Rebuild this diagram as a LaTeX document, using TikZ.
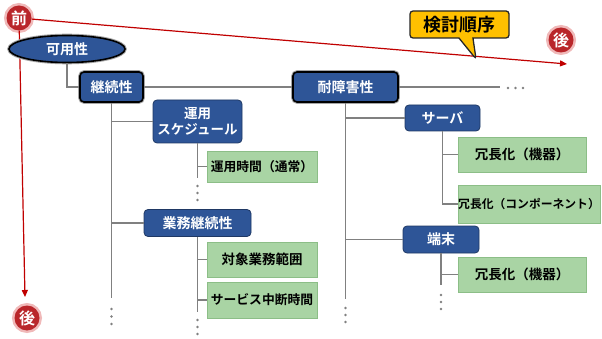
\documentclass[tikz,border=0pt]{standalone}
\usepackage{fontspec}
\setmainfont{Noto Sans CJK JP Bold}
\usetikzlibrary{shapes.geometric,shapes.callouts,arrows.meta}
\definecolor{boxblue}{RGB}{46,85,151}
\definecolor{boxedge}{RGB}{31,56,100}
\definecolor{grn}{RGB}{169,212,164}
\definecolor{grnedge}{RGB}{140,190,135}
\definecolor{redline}{RGB}{192,0,0}
\definecolor{circred}{RGB}{185,38,42}
\definecolor{glow}{RGB}{240,185,185}
\definecolor{conn}{RGB}{128,128,128}
\definecolor{callfill}{RGB}{255,192,0}
\begin{document}
\begin{tikzpicture}[x=1pt,y=-1pt,
 bluebox/.style={draw=boxedge,line width=0.8pt,fill=boxblue,rounded corners=4pt,text=white,font=\fontsize{14}{16}\selectfont,inner sep=0pt,align=center},
 topbox/.style={bluebox,draw=black,line width=1.6pt,preaction={draw=gray!70,line width=3.6pt}},
 greenbox/.style={draw=grnedge,line width=0.6pt,fill=grn,font=\fontsize{13.5}{15}\selectfont,inner sep=0pt},
 connline/.style={draw=conn,line width=1.4pt},
 dotmark/.style={circle,fill=conn,inner sep=0pt,minimum size=2.8pt},
 redarrow/.style={draw=redline,line width=1.2pt,-{Triangle[length=7pt,width=6pt]}},
 order/.style={circle,fill=circred,text=white,font=\fontsize{16}{16}\selectfont,minimum size=25pt,inner sep=0pt,preaction={draw=glow,line width=5pt}},
 calloutbox/.style={rectangle callout,fill=callfill,draw=black!85,line width=1.3pt,rounded corners=3pt,font=\fontsize{18}{18}\selectfont,inner sep=0pt,callout pointer width=14pt}
]
\useasboundingbox (0,0) rectangle (602,339);

% order markers and red arrows
\node[order] (mae) at (19,18) {前};
\node[order] (atoR) at (561,40) {後};
\node[order] (atoB) at (27,318) {後};
\coordinate (hEnd) at (567,64);
\coordinate (vEnd) at (25,297);
\draw[redarrow] (mae) -- (hEnd);
\draw[redarrow] (mae) -- (vEnd);

\node[calloutbox,minimum width=99pt,minimum height=27pt,callout absolute pointer={(476,59)}] (kento) at (459.5,24.5) {検討順序};

% nodes
\node[topbox,ellipse,minimum width=116pt,minimum height=27pt] (kayo) at (67,49) {可用性};
\node[topbox,minimum width=63pt,minimum height=30pt] (keizoku) at (111.5,87) {継続性};
\node[topbox,minimum width=105pt,minimum height=30pt] (tai) at (345.5,87) {耐障害性};
\node[bluebox,minimum width=89pt,minimum height=43pt,font=\fontsize{13.5}{16}\selectfont] (unyo) at (197.5,121.5) {運用\\スケジュール};
\node[greenbox,minimum width=110pt,minimum height=31pt,font=\fontsize{12.8}{15}\selectfont] (jikan) at (262,166.5) {運用時間（通常）};
\node[bluebox,minimum width=107pt,minimum height=27pt] (gyomu) at (197.5,223) {業務継続性};
\node[greenbox,minimum width=110pt,minimum height=35pt] (taisho) at (262,259.5) {対象業務範囲};
\node[greenbox,minimum width=110pt,minimum height=36pt,font=\fontsize{12.8}{15}\selectfont] (service) at (262,300) {サービス中断時間};
\node[bluebox,minimum width=75pt,minimum height=26pt] (server) at (442.5,118) {サーバ};
\node[greenbox,minimum width=128pt,minimum height=35pt] (kiki1) at (522,154.5) {冗長化（機器）};
\node[greenbox,minimum width=142pt,minimum height=38pt,font=\fontsize{11.8}{15}\selectfont] (komp) at (529,204) {冗長化（コンポーネント）};
\node[bluebox,minimum width=76pt,minimum height=27pt] (tanm) at (441,239.5) {端末};
\node[greenbox,minimum width=128pt,minimum height=35pt] (kiki2) at (522,274.5) {冗長化（機器）};

% connectors
\draw[connline] (kayo.south) |- (keizoku.west);
\draw[connline] (keizoku.east) -- (tai.west);
\coordinate (taiR) at (500,87);
\draw[connline] (tai.east) -- (taiR);
\node[dotmark] (d1) at (508,88) {};
\node[dotmark] (d2) at (515.5,88) {};
\node[dotmark] (d3) at (523,88) {};

\coordinate (k1) at (111.5,298);
\draw[connline] (keizoku.south) -- (k1);
\draw[connline] (k1 |- unyo.west) -- (unyo.west);
\draw[connline] (k1 |- gyomu.west) -- (gyomu.west);
\node[dotmark] (d4) at (111.5,309) {};
\node[dotmark] (d5) at (111.5,316.5) {};
\node[dotmark] (d6) at (111.5,324) {};

\coordinate (u1) at (197.5,178);
\draw[connline] (unyo.south) -- (u1);
\draw[connline] (u1 |- jikan.west) -- (jikan.west);
\node[dotmark] (d7) at (197.5,186) {};
\node[dotmark] (d8) at (197.5,193) {};
\node[dotmark] (d9) at (197.5,200) {};

\coordinate (g1) at (197.5,312);
\draw[connline] (gyomu.south) -- (g1);
\draw[connline] (g1 |- taisho.west) -- (taisho.west);
\draw[connline] (g1 |- service.west) -- (service.west);
\node[dotmark] (d10) at (197.5,320) {};
\node[dotmark] (d11) at (197.5,327) {};
\node[dotmark] (d12) at (197.5,334) {};

\coordinate (t1) at (345.5,299);
\draw[connline] (tai.south) -- (t1);
\draw[connline] (t1 |- server.west) -- (server.west);
\draw[connline] (t1 |- tanm.west) -- (tanm.west);
\node[dotmark] (d13) at (345.5,308) {};
\node[dotmark] (d14) at (345.5,315) {};
\node[dotmark] (d15) at (345.5,322) {};

\draw[connline] (server.south) |- (komp.west);
\draw[connline] (server.south |- kiki1.west) -- (kiki1.west);

\coordinate (e1) at (441,285);
\draw[connline] (tanm.south) -- (e1);
\draw[connline] (e1 |- kiki2.west) -- (kiki2.west);
\node[dotmark] (d16) at (441,295) {};
\node[dotmark] (d17) at (441,302) {};
\node[dotmark] (d18) at (441,309) {};
\end{tikzpicture}
\end{document}
